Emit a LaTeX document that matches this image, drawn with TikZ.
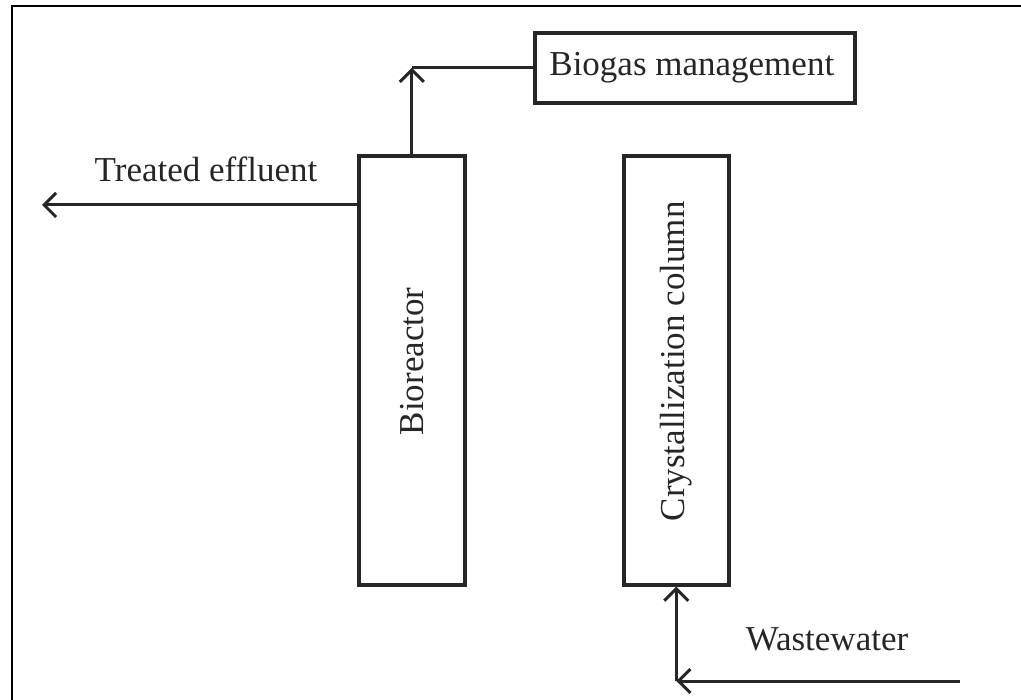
\documentclass[tikz,border=0pt]{standalone}
\usepackage{fontspec}
\setmainfont{Liberation Serif}
\usetikzlibrary{arrows.meta}
\begin{document}
\begin{tikzpicture}[x=1pt,y=-1pt,
  unit/.style={draw=black!85,line width=3.6pt,inner sep=0pt,anchor=north west},
  lbl/.style={font=\fontsize{35}{40}\selectfont,text=black!85,inner sep=0pt},
  flow/.style={draw=black!85,line width=3pt},
  tip/.style={-{Straight Barb[length=12pt,width=24pt,line width=3pt]}}]
\useasboundingbox (0,0) rectangle (1021,700);
\draw[line width=2pt] (11.5,700) -- (11.5,6) -- (1021,6);
% boxes
\node[unit,minimum width=320pt,minimum height=70pt] (bio) at (533,31) {};
\node[lbl] (biot) at ([xshift=-3pt]bio.center) {Biogas management};
\node[unit,minimum width=106pt,minimum height=429pt] (reac) at (357,154) {};
\node[lbl,rotate=90] (react) at ([yshift=9pt]reac.center) {Bioreactor};
\node[unit,minimum width=105pt,minimum height=429pt] (cryst) at (622,154) {};
\node[lbl,rotate=90] (crystt) at ([yshift=9pt]cryst.center) {Crystallization column};
% labels
\node[lbl] (te) at (206,169) {Treated effluent};
\node[lbl] (ww) at (827,639) {Wastewater};
% coordinates
\coordinate (c1) at (reac.north |- bio.west);
\coordinate (te0) at (reac.west |- 0,205);
\coordinate (te1) at (42,205);
\coordinate (w0) at (960,681);
\coordinate (w1) at (cryst.south |- w0);
% connectors
\draw[flow,tip] (reac.north) -- (c1);
\draw[flow] (c1) -- (bio.west);
\draw[flow,tip] (te0) -- (te1);
\draw[flow,tip] (w0) -- (w1);
\draw[flow,tip] (w1) -- (cryst.south);
\end{tikzpicture}
\end{document}
